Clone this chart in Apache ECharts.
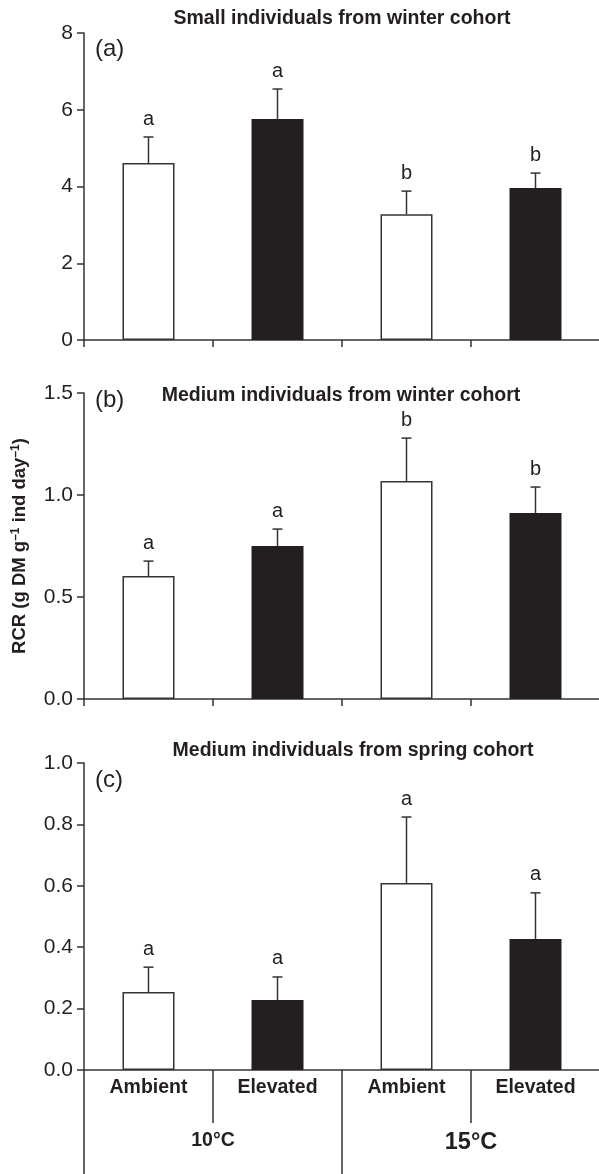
<!DOCTYPE html>
<html>
<head>
<meta charset="utf-8">
<script src="https://cdn.jsdelivr.net/npm/echarts@6/dist/echarts.min.js"></script>
<style>
  html, body { margin: 0; padding: 0; background: #fff; }
  #chart { width: 599px; height: 1174px; }
</style>
</head>
<body>
<div id="chart"></div>
<script>
// treatments along x, and the two temperatures under them
const categories = ['Ambient', 'Elevated', 'Ambient', 'Elevated']
const temps = ['10°C', '15°C']
const filled = [false, true, false, true]

const panelTitles = [
  'Small individuals from winter cohort',
  'Medium individuals from winter cohort',
  'Medium individuals from spring cohort',
]
const panelTags = ['(a)', '(b)', '(c)']

// means and standard errors
const meanA = [4.61, 5.76, 3.28, 3.96]
const seA = [0.68, 0.78, 0.6, 0.39]
const lettersA = ['a', 'a', 'b', 'b']

const meanB = [0.603, 0.75, 1.069, 0.912]
const seB = [0.073, 0.083, 0.21, 0.127]
const lettersB = ['a', 'a', 'b', 'b']

const meanC = [0.254, 0.228, 0.609, 0.427]
const seC = [0.081, 0.075, 0.215, 0.15]
const lettersC = ['a', 'a', 'a', 'a']

// y axis ranges
const yMax = [8, 1.5, 1.0]
const yStep = [2, 0.5, 0.2]
const yDigits = [0, 1, 1]

const FONT = 'Liberation Sans, Arial, sans-serif'
const INK = '#231f20'
const LINE = '#333'

const panels = [
  { mean: meanA, se: seA, letters: lettersA },
  { mean: meanB, se: seB, letters: lettersB },
  { mean: meanC, se: seC, letters: lettersC },
]
const gridTops = [33, 393, 763]
const gridHeights = [307, 306, 307]
const titleY = [19, 396, 751]
const titleX = [342, 341, 353]
const tagY = [49, 400, 780]

const chart = echarts.init(document.getElementById('chart'))

const grids = gridTops.map((t, i) => ({
  left: 84,
  width: 516,
  top: t,
  height: gridHeights[i],
  containLabel: false,
  outerBoundsMode: 'none',
}))

const xAxes = panels.map((p, i) => ({
  type: 'category',
  gridIndex: i,
  data: categories,
  axisLine: { show: true, lineStyle: { color: LINE, width: 1.5 } },
  axisTick: {
    show: true,
    interval: 0,
    alignWithLabel: false,
    length: i === 2 ? 53 : 7,
    lineStyle: { color: LINE, width: 1.5 },
  },
  axisLabel: {
    show: i === 2,
    interval: 0,
    margin: 8,
    fontFamily: FONT,
    fontSize: 19.5,
    fontWeight: 'bold',
    color: INK,
  },
}))
// second row of labels under the bottom panel
xAxes.push({
  type: 'category',
  gridIndex: 2,
  position: 'bottom',
  data: temps.map((t, k) => ({ value: t, textStyle: { fontSize: k === 0 ? 19.5 : 23.5 } })),
  axisLine: { show: false },
  axisTick: { show: true, interval: 0, length: 104, lineStyle: { color: LINE, width: 1.5 } },
  axisLabel: {
    interval: 0,
    margin: 61,
    fontFamily: FONT,
    fontWeight: 'bold',
    color: INK,
  },
})

const yAxes = panels.map((p, i) => ({
  type: 'value',
  gridIndex: i,
  min: 0,
  max: yMax[i],
  interval: yStep[i],
  splitLine: { show: false },
  axisLine: { show: true, lineStyle: { color: LINE, width: 1.5 } },
  axisTick: { show: true, length: 7, lineStyle: { color: LINE, width: 1.5 } },
  axisLabel: {
    margin: 11,
    fontFamily: FONT,
    fontSize: 21,
    color: INK,
    formatter: (v) => v.toFixed(yDigits[i]),
  },
  name: i === 1 ? 'RCR (g DM g{sup|\u20131} ind day{sup|\u20131})' : '',
  nameLocation: 'middle',
  nameGap: 54,
  nameTextStyle: {
    fontFamily: FONT,
    fontSize: 18.5,
    fontWeight: 'bold',
    color: INK,
    rich: {
      sup: { fontFamily: FONT, fontSize: 12, fontWeight: 'bold', verticalAlign: 'top', lineHeight: 20, color: INK },
    },
  },
}))

const series = []
panels.forEach((p, i) => {
  series.push({
    type: 'bar',
    xAxisIndex: i,
    yAxisIndex: i,
    barWidth: 52,
    silent: true,
    data: p.mean.map((m, k) => ({
      value: m,
      itemStyle: filled[k]
        ? { color: INK, borderColor: INK, borderWidth: 1.5 }
        : { color: '#fff', borderColor: LINE, borderWidth: 1.5 },
    })),
  })
  series.push({
    type: 'custom',
    xAxisIndex: i,
    yAxisIndex: i,
    silent: true,
    z: 3,
    data: p.mean.map((m, k) => [k, m, m + p.se[k]]),
    renderItem: (params, api) => {
      const base = api.coord([api.value(0), api.value(1)])
      const top = api.coord([api.value(0), api.value(2)])
      const st = { stroke: LINE, lineWidth: 1.5 }
      return {
        type: 'group',
        children: [
          { type: 'line', shape: { x1: base[0], y1: base[1], x2: top[0], y2: top[1] }, style: st },
          { type: 'line', shape: { x1: top[0] - 5, y1: top[1], x2: top[0] + 5, y2: top[1] }, style: st },
          {
            type: 'text',
            style: {
              text: p.letters[params.dataIndex],
              x: top[0],
              y: top[1] - 18,
              align: 'center',
              verticalAlign: 'middle',
              font: '20px ' + FONT,
              fill: INK,
            },
          },
        ],
      }
    },
  })
})

const graphics = []
panelTitles.forEach((t, i) => {
  graphics.push({
    type: 'text',
    style: {
      text: t,
      x: titleX[i],
      y: titleY[i],
      align: 'center',
      verticalAlign: 'middle',
      font: 'bold 19.5px ' + FONT,
      fill: INK,
    },
  })
  graphics.push({
    type: 'text',
    style: {
      text: panelTags[i],
      x: 95,
      y: tagY[i],
      align: 'left',
      verticalAlign: 'middle',
      font: '24px ' + FONT,
      fill: INK,
    },
  })
})

chart.setOption({
  animation: false,
  grid: grids,
  xAxis: xAxes,
  yAxis: yAxes,
  series: series,
  graphic: graphics,
})
</script>
</body>
</html>
